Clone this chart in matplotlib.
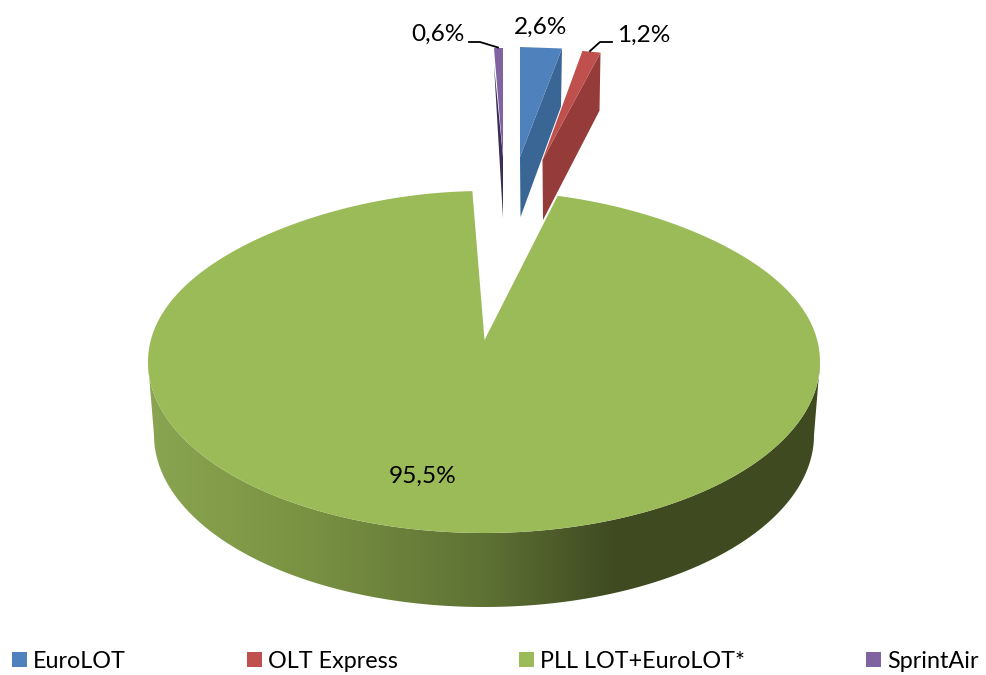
import numpy as np
import matplotlib
matplotlib.use("Agg")
import matplotlib.pyplot as plt
from matplotlib.patches import Polygon, Patch
from matplotlib.colors import LinearSegmentedColormap

categories = ["EuroLOT", "OLT Express", "PLL LOT+EuroLOT*", "SprintAir"]
shares = [2.6, 1.2, 95.5, 0.6]
value_labels = ["2,6%", "1,2%", "95,5%", "0,6%"]

colors = ["#4F81BD", "#C0504D", "#9BBB59", "#8064A2"]
dark_colors = ["#3A6695", "#953B39", "#404B22", "#3B2D55"]

plt.rcParams["font.family"] = ["Lato", "DejaVu Sans"]
FS = 17.6
LEG_FS = 16.8

W, H = 986, 675
fig = plt.figure(figsize=(W / 100, H / 100), dpi=100)
ax = fig.add_axes([0, 0, 1, 1])
ax.set_xlim(0, W)
ax.set_ylim(H, 0)
ax.axis("off")

# angular extents, clockwise from 12 o'clock
total = sum(shares)
edges = np.concatenate([[0], np.cumsum(shares)]) / total * 2 * np.pi
spans = list(zip(edges[:-1], edges[1:]))

# main disc geometry (with a light perspective narrowing at the far side)
CX, CY, RX, RY = 484, 362, 336, 171
BCY, BRX, BRY = 435, 330, 172
APEX = (484.5, 340)
PERSP = 0.08


def rim(t, cx=CX, cy=CY, rx=RX, ry=RY):
    f = 1 - PERSP * np.maximum(np.cos(t), 0) ** 3
    return cx + rx * np.sin(t) * f, cy - ry * np.cos(t)


# big slice
a0, a1 = spans[2]
# side wall with horizontal gradient
t = np.linspace(np.pi / 2, 3 * np.pi / 2, 300)
xt, yt = rim(t)
xb, yb = rim(t, CX, BCY, BRX, BRY)
wall = np.column_stack([np.r_[xt, xb[::-1]], np.r_[yt, yb[::-1]]])
stops = [(150, "#8AA551"), (300, "#7A9343"), (484, "#5E7234"), (610, "#404B22"), (820, "#3F4A21")]
cmap = LinearSegmentedColormap.from_list(
    "wall", [((x - 148) / (820 - 148) if x > 150 else 0, c) for x, c in stops])
im = ax.imshow(np.linspace(0, 1, 512)[None, :], extent=(148, 820, 620, 340), cmap=cmap,
               aspect="auto", zorder=1, interpolation="bilinear")
im.set_clip_path(Polygon(wall, transform=ax.transData))
ax.set_xlim(0, W)
ax.set_ylim(H, 0)

t = np.linspace(a0, a1, 600)
x, y = rim(t)
ax.add_patch(Polygon(np.column_stack([np.r_[APEX[0], x], np.r_[APEX[1], y]]),
                     fc=colors[2], ec="none", zorder=2))

# exploded small slices: apex position, radii, wall depth
small = {
    0: dict(apex=(520, 157), rx=258, ry=110, depth=60),
    1: dict(apex=(542.5, 160), rx=245, ry=110.5, depth=60),
    3: dict(apex=(503, 157), rx=239, ry=109, depth=61),
}
for i, g in small.items():
    a, b = spans[i]
    ax_, ay_ = g["apex"]
    d = g["depth"]
    tt = np.array([a, b])
    px = ax_ + g["rx"] * np.sin(tt)
    py = ay_ - g["ry"] * np.cos(tt)
    if i == 3:
        side = [(ax_, ay_), (px[0], py[0] + 17), (ax_, ay_ + d)]
    else:
        side = [(ax_, ay_), (px[-1], py[-1]), (px[-1] - 1, py[-1] + d - 2), (ax_ + 0.5, ay_ + d)]
    ax.add_patch(Polygon(side, fc=dark_colors[i], ec="none", zorder=3))
    ax.add_patch(Polygon(np.column_stack([np.r_[ax_, px], np.r_[ay_, py]]),
                         fc=colors[i], ec="none", zorder=4))

# labels & leaders
txt = dict(fontsize=FS, color="#000000", ha="center", va="center", zorder=6)
ax.text(541, 27, value_labels[0], **txt)
ax.text(644, 35, value_labels[1], **txt)
ax.text(422.5, 476, value_labels[2], **txt)
ax.text(438, 34, value_labels[3], **txt)
ax.plot([469, 480, 498], [42, 42, 47.5], color="black", lw=1.3, zorder=5)
ax.plot([612, 600, 590], [42, 42, 51], color="black", lw=1.3, zorder=5)

# legend
handles = [Patch(fc=c, ec="none") for c in colors]
ax.legend(handles, categories, ncols=4, frameon=False, fontsize=LEG_FS,
          loc="center left", bbox_to_anchor=(12 / W, 1 - 661 / H), bbox_transform=fig.transFigure,
          borderpad=0, borderaxespad=0, handlelength=0.644, handleheight=0.644,
          handletextpad=0.26, columnspacing=5.19, labelcolor="#000000")

fig.savefig("out.png", dpi=100, facecolor="white")
